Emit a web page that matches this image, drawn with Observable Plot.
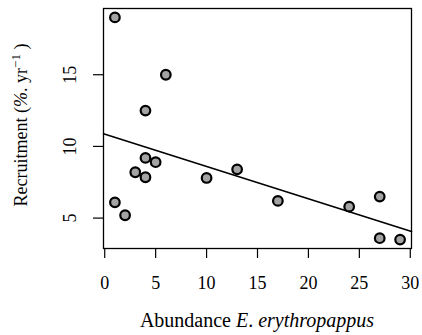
<!DOCTYPE html>
<html>
<head>
<meta charset="utf-8">
<script src="https://cdn.jsdelivr.net/npm/d3@7"></script>
<script src="https://cdn.jsdelivr.net/npm/@observablehq/plot@0.6"></script>
<style>
  html, body { margin: 0; padding: 0; background: #fff; }
  #chart svg { display: block; }
</style>
</head>
<body>
<div id="chart"></div>
<script>
// Abundance of E. erythropappus vs. recruitment rate
const abundance   = [1, 6, 4, 4, 5, 3, 4, 1, 2, 10, 13, 17, 24, 27, 27, 29];
const recruitment = [19, 15, 12.5, 9.2, 8.9, 8.2, 7.85, 6.1, 5.2, 7.8, 8.4, 6.2, 5.8, 6.5, 3.6, 3.5];
const xTicks = [0, 5, 10, 15, 20, 25, 30];
const yTicks = [5, 10, 15];

const points = abundance.map((a, i) => ({x: a, y: recruitment[i]}));

// Ordinary least-squares fit, drawn across the whole plotting range
const mx = d3.mean(abundance), my = d3.mean(recruitment);
const slope = d3.sum(points, d => (d.x - mx) * (d.y - my)) / d3.sum(points, d => (d.x - mx) ** 2);
const intercept = my - slope * mx;

// Pad the data extent by 4% on each side
const pad = ([lo, hi]) => [lo - 0.04 * (hi - lo), hi + 0.04 * (hi - lo)];
const xDomain = pad(d3.extent(abundance));
const yDomain = pad(d3.extent(recruitment));
const fit = xDomain.map(x => ({x, y: intercept + slope * x}));

const font = "Liberation Serif";

const chart = Plot.plot({
  width: 422,
  height: 335,
  marginLeft: 103,
  marginRight: 11,
  marginTop: 8,
  marginBottom: 87,
  style: {fontSize: "18px", color: "#000", background: "#fff"},
  x: {domain: xDomain},
  y: {domain: yDomain},
  marks: [
    Plot.frame({stroke: "#000", strokeWidth: 1.3}),
    // tick marks only; the numbers are set as text marks below
    Plot.axisX({ticks: xTicks, tickSize: 10, strokeWidth: 1.2, tickFormat: () => "", label: null}),
    Plot.axisY({ticks: yTicks, tickSize: 10, strokeWidth: 1.2, tickFormat: () => "", label: null}),
    Plot.text(xTicks, {x: d => d, text: d => String(d), frameAnchor: "bottom", dy: 35,
      lineAnchor: "middle", fontFamily: font, fontSize: 18}),
    Plot.text(yTicks, {y: d => d, text: d => String(d), frameAnchor: "left", dx: -33,
      rotate: -90, textAnchor: "middle", lineAnchor: "middle", fontFamily: font, fontSize: 18}),
    Plot.line(fit, {x: "x", y: "y", stroke: "#000", strokeWidth: 1.6}),
    Plot.dot(points, {x: "x", y: "y", r: 4.8, fill: "#a3a3a3", stroke: "#000", strokeWidth: 2.2})
  ]
});

const svg = d3.select(chart);
// Axis titles
svg.append("text")
  .attr("x", 257).attr("y", 327)
  .attr("text-anchor", "middle")
  .attr("font-family", font).attr("font-size", 20)
  .call(t => {
    t.append("tspan").text("Abundance ");
    t.append("tspan").attr("font-style", "italic").text("E");
    t.append("tspan").text(". ");
    t.append("tspan").attr("font-style", "italic").text("erythropappus");
  });
svg.append("text")
  .attr("transform", "translate(27,125) rotate(-90)")
  .attr("text-anchor", "middle")
  .attr("font-family", font).attr("font-size", 18)
  .call(t => {
    t.append("tspan").text("Recruitment (");
    t.append("tspan").attr("font-style", "italic").text("%");
    t.append("tspan").text(". yr");
    t.append("tspan").attr("font-size", 13).attr("dy", -7).text("\u22121");
    t.append("tspan").attr("dy", 7).text(" )");
  });

document.getElementById("chart").appendChild(chart);
</script>
</body>
</html>
